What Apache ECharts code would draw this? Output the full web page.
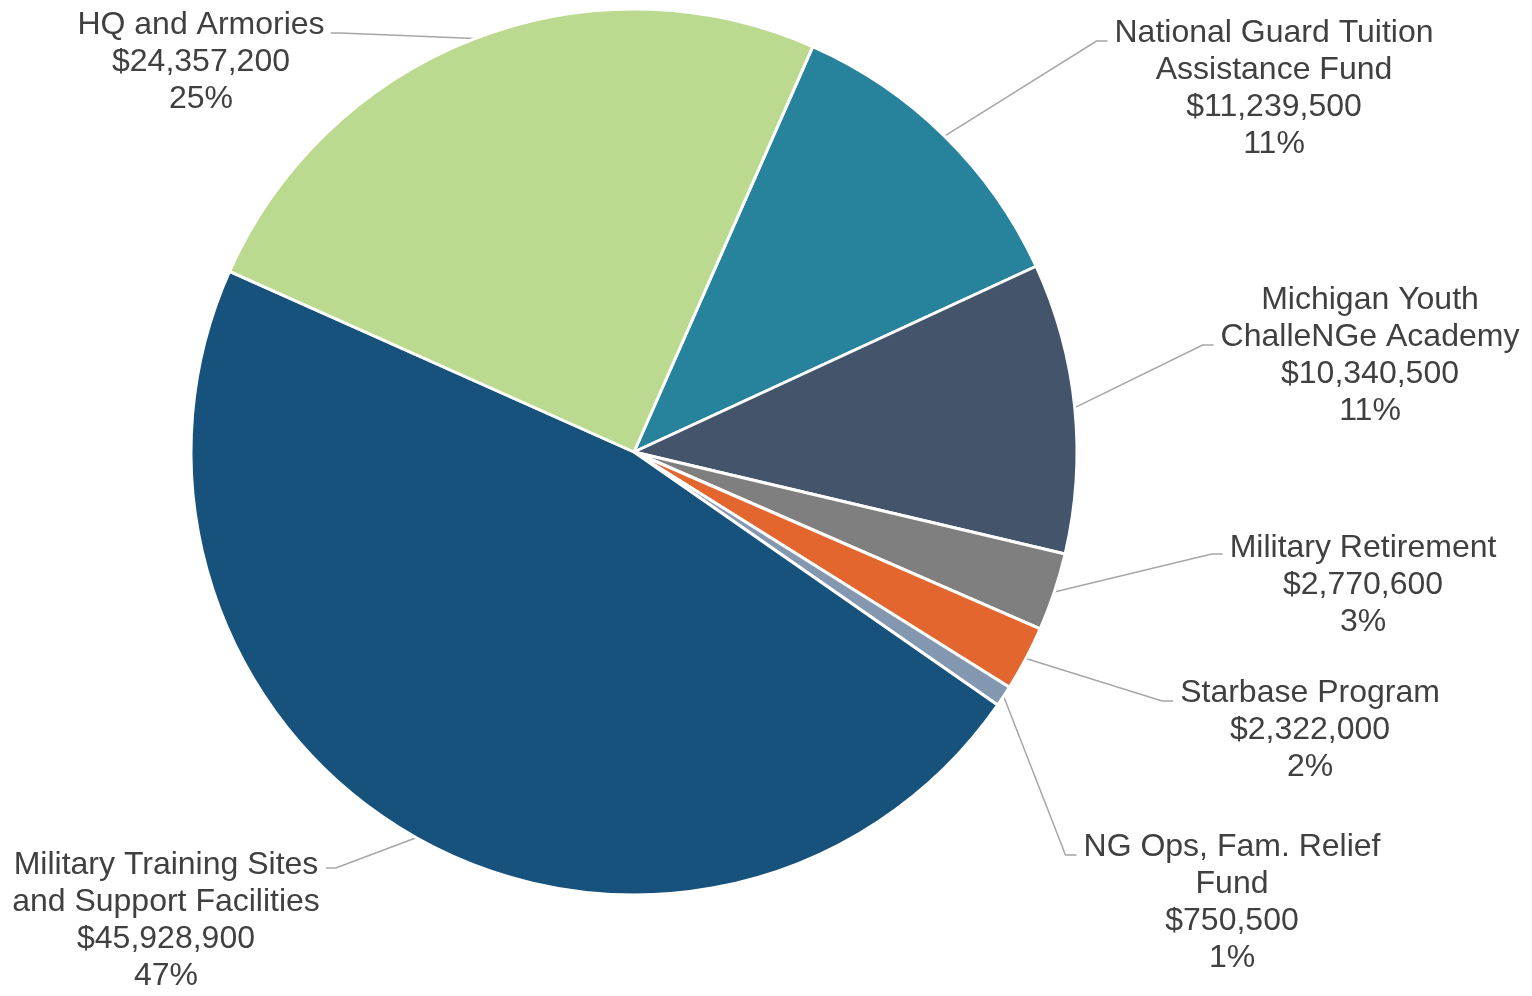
<!DOCTYPE html>
<html>
<head>
<meta charset="utf-8">
<script src="https://cdn.jsdelivr.net/npm/echarts@6/dist/echarts.min.js"></script>
<style>
  html, body { margin: 0; padding: 0; background: #ffffff; }
  #chart { width: 1532px; height: 996px; }
</style>
</head>
<body>
<div id="chart"></div>
<script>
// ---- data (clockwise from NGTA) ----
const categories = [
  'National Guard Tuition\nAssistance Fund',
  'Michigan Youth\nChalleNGe Academy',
  'Military Retirement',
  'Starbase Program',
  'NG Ops, Fam. Relief\nFund',
  'Military Training Sites\nand Support Facilities',
  'HQ and Armories'
];
const values = [11239500, 10340500, 2770600, 2322000, 750500, 45928900, 24357200];
const colors = ['#27839C', '#44546A', '#7F7F7F', '#E3662F', '#8497B0', '#17527C', '#BCDA8F'];

// ---- layout (label block centre x, block top y, leader attach offset) ----
const labelPos = [[1274, 14.5], [1370, 281.5], [1363, 529.5], [1310, 674.5], [1232, 828.5], [166, 846.5], [201, 6.5]];
const leaderRow = [0, 1, 0, 0, 0, 0, 0];
const leaderDy = [8, 8, 6, 8, 8, 3, 8];
const CX = 634, CY = 452, R = 443, LH = 37;

const chart = echarts.init(document.getElementById('chart'));
function money(v) { return '$' + v.toLocaleString('en-US'); }

chart.setOption({
  backgroundColor: '#ffffff',
  animation: false,
  series: [{
    type: 'pie',
    center: [CX, CY],
    radius: [0, R],
    startAngle: 66.2,
    clockwise: true,
    percentPrecision: 0,
    avoidLabelOverlap: false,
    data: categories.map((c, i) => ({ name: c, value: values[i], itemStyle: { color: colors[i] } })),
    itemStyle: { borderColor: '#ffffff', borderWidth: 3 },
    label: {
      show: true,
      position: 'outside',
      formatter: p => p.name + '\n' + money(p.value) + '\n' + p.percent + '%',
      fontFamily: '"Liberation Sans", Arial, sans-serif',
      fontSize: 32,
      lineHeight: LH,
      color: '#404040',
      align: 'center'
    },
    labelLine: { show: true, smooth: false, lineStyle: { color: '#A6A6A6', width: 1.5 } },
    labelLayout: function (params) {
      const i = params.dataIndex;
      const pos = labelPos[i];
      const w = params.labelRect.width;
      const anchorY = pos[1] + leaderRow[i] * LH + LH / 2 + leaderDy[i];
      const start = params.labelLinePoints ? params.labelLinePoints[0] : [CX, CY];
      let end, elbow;
      if (pos[0] > CX) {
        const left = pos[0] - w / 2;
        end = [left - 7, anchorY];
        elbow = [left - 18, anchorY];
      } else {
        const right = pos[0] + w / 2;
        end = [right + 6, anchorY];
        elbow = [right + 16, anchorY];
      }
      return {
        x: pos[0],
        y: pos[1],
        align: 'center',
        verticalAlign: 'top',
        labelLinePoints: [start, elbow, end]
      };
    }
  }]
});
</script>
</body>
</html>
